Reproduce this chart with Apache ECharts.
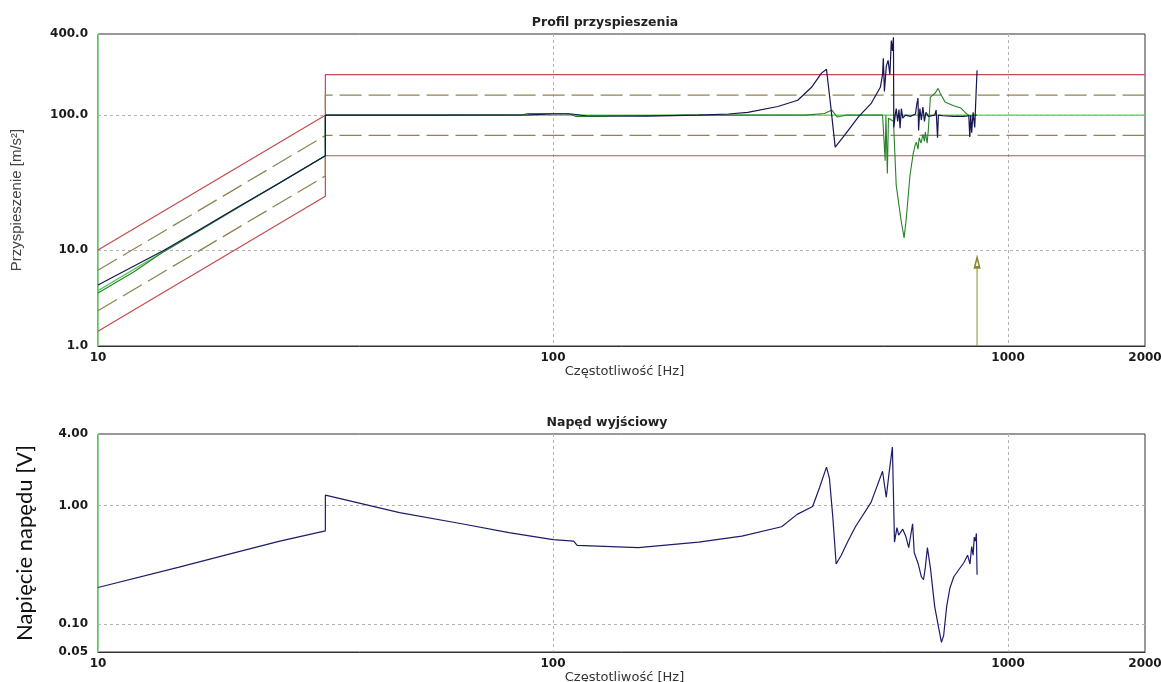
<!DOCTYPE html>
<html>
<head>
<meta charset="utf-8">
<script src="https://cdn.jsdelivr.net/npm/echarts@6/dist/echarts.min.js"></script>
<style>
html,body{margin:0;padding:0;background:#fff;}
#c{width:1161px;height:682px;}
</style>
</head>
<body>
<div id="c"></div>
<script>
// ---------- DATA ----------
// Frequency axis ticks (Hz)
const xTickValues = [10, 100, 1000, 2000];
const xTickLabels = ['10', '100', '1000', '2000'];
// Top chart y ticks; the printed "1.0" sits at the axis floor
const accAxisMin = 1.94, accAxisMax = 400;
const accTickValues = [accAxisMin, 10, 100, accAxisMax];
const accTickLabels = ['1.0', '10.0', '100.0', '400.0'];
// Bottom chart y ticks (as printed)
const driveAxisMin = 0.058, driveAxisMax = 4;
const driveTickValues = [driveAxisMin, 0.1, 1, driveAxisMax];
const driveTickLabels = ['0.05', '0.10', '1.00', '4.00'];

// Alarm limits (red) [Hz, m/s^2]
const alarmUpper = [[10, 10], [31.6, 100], [31.6, 200], [2000, 200]];
const alarmLower = [[10, 2.5], [31.6, 25], [31.6, 50], [2000, 50]];
// Warning limits (dashed olive)
const warnUpper = [[10, 7.07], [31.6, 70.7], [31.6, 141], [2000, 141]];
const warnLower = [[10, 3.54], [31.6, 35.4], [31.6, 70.7], [2000, 70.7]];
// Reference profile (bright green)
const reference = [[10, 5], [31.6, 50], [31.6, 100], [2000, 100]];
// Measured channel (dark green)
const measured = [
  [10, 4.8], [12, 6.9], [14, 9.8], [17, 14.4], [20, 20], [25, 31.3], [31.6, 50], [31.6, 100],
  [85, 100], [88, 103], [108, 103], [112, 98], [125, 98], [150, 99], [200, 100], [358, 100],
  [395, 103], [410, 109], [421, 97], [440, 100], [530, 100], [535, 100], [537, 46], [539, 100],
  [541, 100], [543, 37], [546, 95], [560, 90], [568, 30], [582, 16.6], [591, 12.3], [597, 16.6],
  [609, 36], [619, 52], [625, 60], [629, 63], [634, 56], [638, 68], [644, 62], [650, 72],
  [655, 64], [658, 75], [664, 62], [668, 77], [675, 136], [692, 146], [702, 158], [709, 146],
  [727, 125], [757, 118], [788, 113], [809, 103], [826, 98], [840, 100], [855, 100]
];
// Control channel (navy)
const control = [
  [10, 5.5], [12, 7.6], [14, 10.0], [17, 14.6], [20, 20.2], [25, 31.3], [31.6, 50], [31.6, 100],
  [55, 100], [88, 100.5], [100, 102], [110, 102], [118, 99], [160, 98.5], [209, 100], [243, 102],
  [268, 105], [312, 116], [345, 129], [370, 161], [389, 205], [399, 219], [407, 123], [417, 58],
  [440, 73], [469, 97], [501, 123], [524, 161], [530, 200], [532, 264], [535, 150], [540, 230],
  [545, 255], [550, 200], [554, 358], [557, 300], [560, 378], [561, 81], [565, 100], [568, 112],
  [572, 90], [576, 110], [579, 80], [583, 112], [587, 95], [595, 100], [610, 98], [626, 102],
  [630, 120], [634, 134], [636, 77], [640, 112], [645, 92], [650, 115], [655, 90], [660, 105],
  [668, 98], [690, 100], [695, 109], [700, 68], [703, 100], [720, 99], [760, 98], [800, 98],
  [820, 99], [824, 69], [828, 100], [832, 74], [838, 105], [845, 81], [851, 150], [855, 215]
];
// Sweep marker arrow (olive)
const sweepMarker = [[855, 1.94], [855, 8.1]];
// Drive output (bottom chart) [Hz, V]
const drive = [
  [10, 0.203], [15, 0.30], [20, 0.40], [25.1, 0.50], [31.6, 0.61], [31.6, 1.22], [46, 0.87],
  [63, 0.70], [80, 0.59], [100, 0.515], [111, 0.50], [113, 0.46], [154, 0.44], [209, 0.49],
  [260, 0.55], [318, 0.66], [344, 0.84], [372, 0.98], [385, 1.4], [399, 2.1], [405, 1.7],
  [412, 0.8], [419, 0.32], [430, 0.38], [445, 0.5], [462, 0.66], [500, 1.06], [530, 1.94],
  [535, 1.5], [540, 1.17], [547, 1.8], [557, 3.1], [563, 0.49], [570, 0.65], [575, 0.56],
  [587, 0.63], [596, 0.55], [605, 0.44], [617, 0.70], [622, 0.40], [635, 0.32], [645, 0.25],
  [652, 0.236], [658, 0.30], [665, 0.44], [675, 0.30], [690, 0.14], [705, 0.09], [714, 0.07],
  [722, 0.08], [733, 0.14], [745, 0.20], [760, 0.25], [800, 0.33], [815, 0.38], [825, 0.32],
  [832, 0.45], [838, 0.38], [843, 0.54], [848, 0.50], [852, 0.58], [855, 0.26]
];

// ---------- CHART ----------
const chart = echarts.init(document.getElementById('c'), null, { renderer: 'canvas' });
const tickFont = { fontFamily: 'DejaVu Sans', fontWeight: 'bold', fontSize: 12, color: '#1a1a1a' };

function labelFrom(values, labels) {
  return function (v) {
    const lv = Math.log10(v);
    for (let i = 0; i < values.length; i++) {
      if (Math.abs(lv - Math.log10(values[i])) < 0.01) return labels[i];
    }
    return '';
  };
}

const splitDash = { show: true, showMinLine: false, showMaxLine: false,
  lineStyle: { color: '#b4b4b4', type: [3, 3], width: 1 } };

function xAxisCfg(gridIndex) {
  return {
    gridIndex, type: 'log', logBase: 10, min: 10, max: 2000,
    name: 'Częstotliwość [Hz]', nameLocation: 'middle', nameGap: 15,
    nameTextStyle: { fontFamily: 'DejaVu Sans', fontSize: 13, color: '#333', padding: [0, 0, 0, 6] },
    axisLine: { show: true, lineStyle: { color: '#333', width: 1 } },
    axisTick: { show: false, customValues: xTickValues },
    axisLabel: Object.assign({ margin: 6, customValues: xTickValues, formatter: labelFrom(xTickValues, xTickLabels) }, tickFont),
    splitLine: splitDash
  };
}

const option = {
  animation: false,
  backgroundColor: '#fff',
  title: [
    { text: 'Profil przyspieszenia', left: 605, top: 16, textAlign: 'center', padding: 0,
      textStyle: { fontFamily: 'DejaVu Sans', fontWeight: 'bold', fontSize: 12.5, color: '#222' } },
    { text: 'Napęd wyjściowy', left: 607, top: 416, textAlign: 'center', padding: 0,
      textStyle: { fontFamily: 'DejaVu Sans', fontWeight: 'bold', fontSize: 12.5, color: '#222' } }
  ],
  grid: [
    { left: 98, right: 16, top: 34, bottom: 336, outerBoundsMode: 'none', containLabel: false,
      show: true, borderColor: '#333', borderWidth: 1, backgroundColor: 'transparent' },
    { left: 98, right: 16, top: 434, bottom: 30, outerBoundsMode: 'none', containLabel: false,
      show: true, borderColor: '#333', borderWidth: 1, backgroundColor: 'transparent' }
  ],
  xAxis: [xAxisCfg(0), xAxisCfg(1)],
  yAxis: [
    {
      gridIndex: 0, type: 'log', logBase: 10, min: accAxisMin, max: accAxisMax,
      name: 'Przyspieszenie [m/s²]', nameLocation: 'middle', nameGap: 74, nameRotate: 90,
      nameTextStyle: { fontFamily: 'Liberation Sans', fontSize: 15, color: '#444', padding: [0, 20, 0, 0] },
      axisLine: { show: true, lineStyle: { color: '#8fd48f', width: 1 } },
      axisTick: { show: false, customValues: accTickValues },
      axisLabel: Object.assign({ margin: 10, customValues: accTickValues, formatter: labelFrom(accTickValues, accTickLabels) }, tickFont),
      splitLine: splitDash
    },
    {
      gridIndex: 1, type: 'log', logBase: 10, min: driveAxisMin, max: driveAxisMax,
      name: 'Napięcie napędu [V]', nameLocation: 'middle', nameGap: 62, nameRotate: 90,
      nameTextStyle: { fontFamily: 'Lato', fontSize: 22, color: '#111' },
      axisLine: { show: true, lineStyle: { color: '#8fd48f', width: 1 } },
      axisTick: { show: false, customValues: driveTickValues },
      axisLabel: Object.assign({ margin: 10, customValues: driveTickValues, formatter: labelFrom(driveTickValues, driveTickLabels) }, tickFont),
      splitLine: splitDash
    }
  ],
  series: [
    { name: 'alarmUpper', type: 'line', xAxisIndex: 0, yAxisIndex: 0, data: alarmUpper, symbol: 'none',
      lineStyle: { color: '#c54a4a', width: 1.2 } },
    { name: 'alarmLower', type: 'line', xAxisIndex: 0, yAxisIndex: 0, data: alarmLower, symbol: 'none',
      lineStyle: { color: '#c54a4a', width: 1.2 } },
    { name: 'warnUpper', type: 'line', xAxisIndex: 0, yAxisIndex: 0, data: warnUpper, symbol: 'none',
      lineStyle: { color: '#8e8450', width: 1.3, type: [22, 7] } },
    { name: 'warnLower', type: 'line', xAxisIndex: 0, yAxisIndex: 0, data: warnLower, symbol: 'none',
      lineStyle: { color: '#8e8450', width: 1.3, type: [22, 7] } },
    { name: 'reference', type: 'line', xAxisIndex: 0, yAxisIndex: 0, data: reference, symbol: 'none',
      lineStyle: { color: '#5ccc5c', width: 1.3 } },
    { name: 'measured', type: 'line', xAxisIndex: 0, yAxisIndex: 0, data: measured, symbol: 'none',
      lineStyle: { color: '#2a7f2a', width: 1.1 } },
    { name: 'control', type: 'line', xAxisIndex: 0, yAxisIndex: 0, data: control, symbol: 'none',
      lineStyle: { color: '#161650', width: 1.2 } },
    { name: 'sweep', type: 'line', xAxisIndex: 0, yAxisIndex: 0, data: sweepMarker,
      symbol: (val, params) => params.dataIndex === 1 ? 'emptyTriangle' : 'none',
      symbolSize: [5, 10], showSymbol: true, itemStyle: { color: '#8a8a2c', borderColor: '#8a8a2c', borderWidth: 1 },
      lineStyle: { color: '#8a8a2c', width: 1 } },
    { name: 'drive', type: 'line', xAxisIndex: 1, yAxisIndex: 1, data: drive, symbol: 'none',
      lineStyle: { color: '#1c1c6a', width: 1.2 } }
  ]
};
chart.setOption(option);
</script>
</body>
</html>
